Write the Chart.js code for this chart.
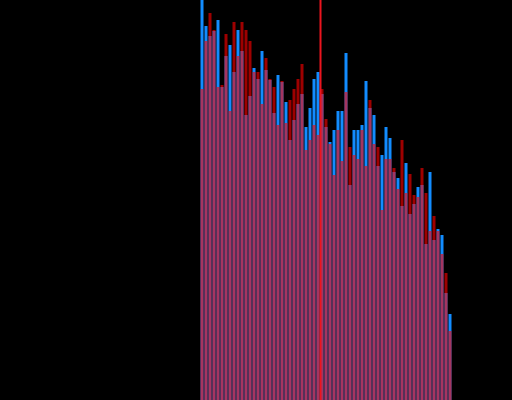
<!DOCTYPE html>
<html>
<head>
<meta charset="utf-8">
<script src="https://cdn.jsdelivr.net/npm/chart.js@4"></script>
<style>
  html, body { margin: 0; padding: 0; background: #000; }
  #wrap { width: 512px; height: 400px; }
</style>
</head>
<body>
<div id="wrap"><canvas id="myChart" width="512" height="400"></canvas></div>
<script>
  // histogram bins 0..127, only 50..112 have counts
  const binCount = 128
  const firstBin = 50
  const redCounts = [
    311, 359, 387, 370, 313, 315, 366, 289, 378, 344,
    378, 370, 359, 328, 328, 296, 342, 321, 313, 275,
    319, 277, 300, 311, 321, 336, 250, 260, 275, 265,
    311, 281, 256, 225, 270, 239, 308, 253, 245, 241,
    270, 234, 300, 256, 253, 190, 241, 241, 232, 211,
    260, 207, 226, 205, 203, 232, 207, 169, 184, 169,
    146, 127, 69
  ]
  const blueCounts = [
    420, 374, 364, 369, 380, 313, 344, 355, 328, 370,
    349, 285, 304, 332, 321, 349, 330, 320, 287, 325,
    318, 298, 260, 280, 296, 306, 273, 292, 321, 328,
    306, 273, 258, 270, 289, 289, 347, 215, 270, 270,
    275, 319, 292, 285, 234, 245, 273, 262, 228, 222,
    194, 237, 186, 196, 213, 215, 156, 228, 160, 171,
    165, 107, 86
  ]
  const markerBin = 80
  const yMax = 400

  function padBins(values) {
    let out = []
    for (let i = 0; i < binCount; i++) {
      let v = values[i - firstBin]
      out.push(v === undefined ? null : v)
    }
    return out
  }

  function drawChart() {
    const ctx = document.getElementById("myChart")
    let labels = []
    for (let i = 0; i < binCount; i++) labels.push(String(i))

    const markerLine = {
      id: "markerLine",
      afterDatasetsDraw(chart) {
        const x = chart.scales.x
        const area = chart.chartArea
        const px = (x.getPixelForValue(markerBin - 1) + x.getPixelForValue(markerBin)) / 2 + 0.5
        const c = chart.ctx
        c.save()
        c.strokeStyle = "rgb(235, 20, 30)"
        c.lineWidth = 2
        c.beginPath()
        c.moveTo(px, area.top)
        c.lineTo(px, area.bottom)
        c.stroke()
        c.restore()
      },
    }

    new Chart(ctx, {
      type: "bar",
      data: {
        labels: labels,
        datasets: [
          {
            label: "Red",
            data: padBins(redCounts),
            backgroundColor: "rgba(255, 0, 0, 0.62)",
            barPercentage: 0.75,
            categoryPercentage: 1,
          },
          {
            label: "Blue",
            data: padBins(blueCounts),
            backgroundColor: "rgb(18, 140, 255)",
            barPercentage: 0.75,
            categoryPercentage: 1,
          },
        ],
      },
      options: {
        responsive: false,
        animation: false,
        layout: { padding: 0 },
        plugins: {
          legend: { display: false },
          tooltip: { enabled: false },
        },
        scales: {
          x: { display: false, stacked: true },
          y: { display: false, stacked: false, beginAtZero: true, min: 0, max: yMax },
        },
      },
      plugins: [markerLine],
    })
  }

  document.addEventListener("DOMContentLoaded", drawChart)
</script>
</body>
</html>
